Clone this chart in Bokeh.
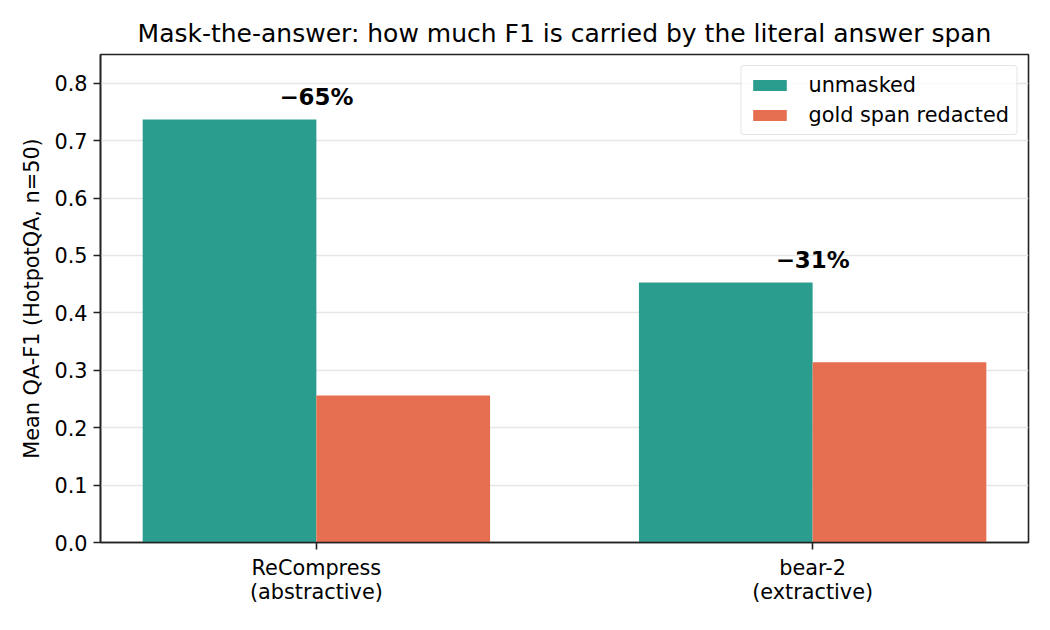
from bokeh.plotting import figure
from bokeh.models import (ColumnDataSource, FixedTicker, Legend, LegendItem, Title,
                          CustomJSTickFormatter)
from bokeh.core.properties import value
from bokeh.embed import file_html
from bokeh.resources import INLINE

# Mean QA-F1 per compressor, before and after redacting the gold answer span
methods = ["ReCompress\n(abstractive)", "bear-2\n(extractive)"]
unmasked = [0.737, 0.453]
redacted = [0.256, 0.314]
y_ticks = [0.0, 0.1, 0.2, 0.3, 0.4, 0.5, 0.6, 0.7, 0.8]

TEAL = "#2a9d8f"
CORAL = "#e76f51"
INK = "#222222"
FONT = "DejaVu Sans"
bar_w = 0.35

idx = list(range(len(methods)))
# relative change in F1 once the gold span is removed
drops = [f"\u2212{round((1 - r / u) * 100):.0f}%" for u, r in zip(unmasked, redacted)]

src_u = ColumnDataSource(dict(x=[i - bar_w / 2 for i in idx], top=unmasked))
src_r = ColumnDataSource(dict(x=[i + bar_w / 2 for i in idx], top=redacted))
# the drop label sits over the middle of each group, just above the taller bar
src_t = ColumnDataSource(dict(x=idx, y=[u + 0.017 for u in unmasked], t=drops))

p = figure(width=1050, height=630, output_backend="svg", toolbar_location=None,
           x_range=(-0.435, 1.435), y_range=(0, 0.85),
           min_border_left=100, min_border_right=22,
           min_border_top=54, min_border_bottom=88)

p.add_layout(Title(text="Mask-the-answer: how much F1 is carried by the literal answer span",
                   align="center", text_font=FONT, text_font_size="25px",
                   text_font_style="normal", text_color="black", standoff=13), "above")

r_u = p.vbar(x="x", top="top", width=bar_w, source=src_u, fill_color=TEAL, line_color=None)
r_r = p.vbar(x="x", top="top", width=bar_w, source=src_r, fill_color=CORAL, line_color=None)

p.text(x="x", y="y", text="t", source=src_t, text_align="center",
       text_baseline="bottom", text_font_size="22.9px", text_font_style="bold",
       text_color="black", text_font=value(FONT))

# axes
p.xaxis.ticker = FixedTicker(ticks=idx)
p.xaxis.major_label_overrides = {i: m for i, m in zip(idx, methods)}
p.xaxis.major_label_text_line_height = 1.0
p.yaxis.ticker = FixedTicker(ticks=y_ticks)
p.yaxis.formatter = CustomJSTickFormatter(code="return tick.toFixed(1);")
p.yaxis.axis_label = "Mean QA-F1 (HotpotQA, n=50)"

for ax in (p.xaxis, p.yaxis):
    ax.major_label_text_font = FONT
    ax.major_label_text_font_size = "20.8px"
    ax.major_label_text_color = "black"
    ax.axis_line_color = INK
    ax.axis_line_width = 1.6
    ax.major_tick_line_color = INK
    ax.major_tick_line_width = 1.6
    ax.major_tick_out = 7
    ax.major_tick_in = 0
    ax.minor_tick_line_color = None
    ax.major_label_standoff = 6
p.yaxis.axis_label_text_font = FONT
p.yaxis.axis_label_text_font_size = "20.8px"
p.yaxis.axis_label_text_font_style = "normal"
p.yaxis.axis_label_text_color = "black"
p.yaxis.axis_label_standoff = 7

p.xgrid.grid_line_color = None
p.ygrid.grid_line_color = "#e6e6e6"
p.ygrid.grid_line_width = 1.4

p.outline_line_color = INK
p.outline_line_width = 1.6
p.background_fill_color = "white"
p.border_fill_color = "white"

legend = Legend(items=[LegendItem(label="unmasked", renderers=[r_u]),
                       LegendItem(label="gold span redacted", renderers=[r_r])],
                location="top_right", margin=11, padding=7, spacing=6,
                glyph_width=42, glyph_height=14, label_standoff=18,
                label_text_font=FONT, label_text_font_size="20.8px",
                label_text_color="black", label_height=20,
                border_line_color="#cccccc", border_line_width=1.4,
                border_radius=4,
                background_fill_color="white", background_fill_alpha=0.8)
p.add_layout(legend)

open("out.html", "w").write(file_html(p, INLINE))
